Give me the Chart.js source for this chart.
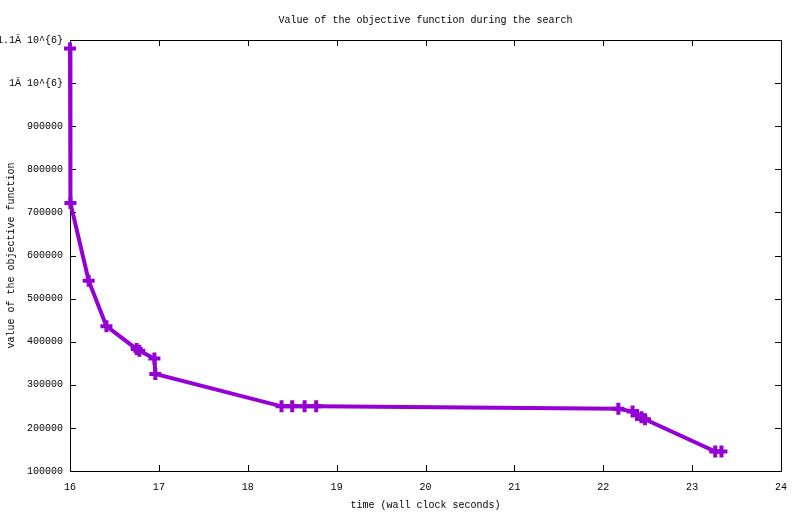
<!DOCTYPE html>
<html>
<head>
<meta charset="utf-8">
<script src="https://cdn.jsdelivr.net/npm/chart.js@4.4.0/dist/chart.umd.min.js"></script>
<style>
  html, body { margin: 0; padding: 0; background: #fff; }
  #wrap { width: 800px; height: 514px; }
</style>
</head>
<body>
<div id="wrap"><canvas id="objChart"></canvas></div>
<script>
// search trace: wall clock time vs objective value
const times = [16.0, 16.005, 16.21, 16.41, 16.75, 16.78, 16.95, 16.96, 18.38, 18.50, 18.64, 18.77, 22.17, 22.33, 22.38, 22.43, 22.47, 23.26, 23.33];
const objective = [1080000, 722000, 541500, 436000, 383000, 379000, 361000, 325000, 250000, 250000, 250000, 250000, 244500, 238000, 230000, 225000, 220000, 145000, 145000];

const xTicks = [16, 17, 18, 19, 20, 21, 22, 23, 24];
const yTicks = [100000, 200000, 300000, 400000, 500000, 600000, 700000, 800000, 900000, 1000000, 1100000];
const yTickLabels = ['100000', '200000', '300000', '400000', '500000', '600000', '700000', '800000', '900000', '1Ã 10^{6}', '1.1Ã 10^{6}'];

const FONT = { family: '"Liberation Mono", "DejaVu Sans Mono", monospace', size: 10, weight: 'normal' };

// gnuplot style box: border on all sides + inward ticks
const boxPlugin = {
    id: 'box',
    beforeDatasetsDraw(chart) {
        const { ctx, chartArea: a, scales } = chart;
        ctx.save();
        ctx.strokeStyle = '#000';
        ctx.lineWidth = 1;
        ctx.strokeRect(a.left + 0.5, a.top + 0.5, a.right - a.left, a.bottom - a.top);
        ctx.beginPath();
        xTicks.forEach(v => {
            const px = Math.round(scales.x.getPixelForValue(v)) + 0.5;
            ctx.moveTo(px, a.bottom); ctx.lineTo(px, a.bottom - 6);
            ctx.moveTo(px, a.top); ctx.lineTo(px, a.top + 6);
        });
        yTicks.forEach(v => {
            const py = Math.round(scales.y.getPixelForValue(v)) + 0.5;
            ctx.moveTo(a.left, py); ctx.lineTo(a.left + 6, py);
            ctx.moveTo(a.right, py); ctx.lineTo(a.right - 6, py);
        });
        ctx.stroke();
        ctx.restore();
    }
};

new Chart(document.getElementById('objChart').getContext('2d'), {
    type: 'line',
    data: {
        datasets: [{
            data: times.map((t, i) => ({ x: t, y: objective[i] })),
            borderColor: '#9400d3',
            backgroundColor: '#9400d3',
            borderWidth: 4,
            pointStyle: 'cross',
            pointRadius: 6,
            pointBorderWidth: 4,
            pointBorderColor: '#9400d3',
            tension: 0,
            clip: 8
        }]
    },
    options: {
        responsive: true,
        maintainAspectRatio: false,
        animation: false,
        layout: { padding: { left: 0, right: 19, top: 0, bottom: 0 } },
        plugins: {
            legend: { display: false },
            tooltip: { enabled: false },
            title: {
                display: true,
                fullSize: false,
                text: 'Value of the objective function during the search',
                color: '#000',
                font: FONT,
                padding: { top: 14, bottom: 14 }
            }
        },
        scales: {
            x: {
                type: 'linear',
                min: 16, max: 24,
                afterBuildTicks: s => { s.ticks = xTicks.map(v => ({ value: v })); },
                afterFit: s => { s.height = 43; },
                ticks: { color: '#000', font: FONT, padding: 10, maxRotation: 0, callback: v => String(v) },
                grid: { display: false, drawTicks: false },
                border: { display: false },
                title: { display: true, text: 'time (wall clock seconds)', color: '#000', font: FONT, padding: { top: 0, bottom: 3 } }
            },
            y: {
                min: 100000, max: 1100000,
                afterBuildTicks: s => { s.ticks = yTicks.map(v => ({ value: v })); },
                afterFit: s => { s.width = 70; },
                ticks: { color: '#000', font: FONT, padding: 7, callback: v => yTickLabels[yTicks.indexOf(v)] },
                grid: { display: false, drawTicks: false },
                border: { display: false },
                title: { display: true, text: 'value of the objective function', color: '#000', font: FONT, padding: { top: 5, bottom: 0 } }
            }
        }
    },
    plugins: [boxPlugin]
});
</script>
</body>
</html>
